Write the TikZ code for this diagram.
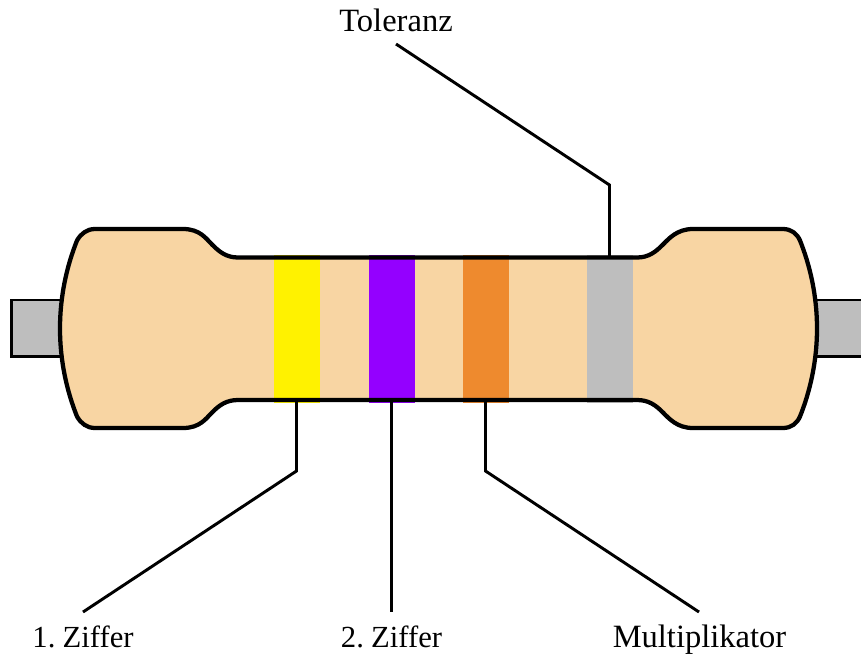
\documentclass[tikz,border=0pt]{standalone}
\usepackage{fontspec}
\setmainfont[WordSpace=0.6]{Liberation Serif}
\definecolor{bodyc}{HTML}{F8D5A3}
\definecolor{leadc}{HTML}{BEBEBE}
\definecolor{yel}{HTML}{FFF200}
\definecolor{vio}{HTML}{9400FF}
\definecolor{ora}{HTML}{EE8A2E}
\tikzset{
  outline/.style={line width=3.2pt,line join=round},
  leader/.style={line width=2.2pt,line join=miter},
  leadwire/.style={fill=leadc,draw=black,line width=2.1pt},
  band/.style={draw=none,inner sep=0pt,minimum width=34.5pt,minimum height=111pt},
  lab/.style={inner sep=0pt,anchor=base,font=\fontsize{24.4pt}{26pt}\selectfont},
  labz/.style={inner sep=0pt,anchor=base,font=\fontsize{23pt}{26pt}\selectfont}
}
\begin{document}
\begin{tikzpicture}[x=0.75pt,y=-0.75pt]
\useasboundingbox (0,0) rectangle (861,654);
\draw[leadwire] (11.5,300) rectangle (80,356.5);
\draw[leadwire] (790,300) rectangle (875,356.5);
\def\bodypath{(95,229) -- (183,229)
  .. controls (200,229) and (206,238.5) .. (212,244.5)
  .. controls (219,251.5) and (226,257.5) .. (238,257.5)
  -- (637,257.5)
  .. controls (649,257.5) and (656,251.5) .. (663,244.5)
  .. controls (669,238.5) and (677,229) .. (693,229)
  -- (783,229)
  .. controls (791,229) and (797,233.5) .. (800,240.5)
  .. controls (810,265.5) and (817,295.5) .. (817,328.5)
  .. controls (817,361.5) and (810,391.5) .. (800,416.5)
  .. controls (797,423.5) and (791,428) .. (783,428)
  -- (693,428)
  .. controls (677,428) and (669,418.5) .. (663,412.5)
  .. controls (656,405.5) and (649,400) .. (637,400)
  -- (238,400)
  .. controls (226,400) and (219,405.5) .. (212,412.5)
  .. controls (206,418.5) and (200,428) .. (183,428)
  -- (95,428)
  .. controls (87,428) and (81,423.5) .. (77,416.5)
  .. controls (67,391.5) and (60,361.5) .. (60,328.5)
  .. controls (60,295.5) and (67,265.5) .. (77,240.5)
  .. controls (81,233.5) and (87,229) .. (95,229) -- cycle}
\fill[bodyc] \bodypath;
\node[band,fill=yel] (b1) at (296.5,328.5) {};
\node[band,fill=vio] (b2) at (391.5,328.5) {};
\node[band,fill=ora] (b3) at (485.5,328.5) {};
\node[band,fill=leadc] (b4) at (609.5,328.5) {};
\draw[outline] \bodypath;
\node[lab] (t) at (396,31.5) {Toleranz};
\node[labz] (z1) at (83,647) {1. Ziffer};
\node[labz] (z2) at (391.5,647) {2. Ziffer};
\node[lab] (m) at (699.5,647) {Multiplikator};
\coordinate (tl) at (396,44);
\coordinate (e1) at (83,612);
\coordinate (e2) at (391.5,612);
\coordinate (e3) at (699,612);
\draw[leader] (tl) -- (609.5,185) -- (b4.north |- 0,257);
\draw[leader] (b1.south |- 0,400) -- (296.5,471) -- (e1);
\draw[leader] (b2.south |- 0,400) -- (e2);
\draw[leader] (b3.south |- 0,400) -- (485.5,471) -- (e3);
\end{tikzpicture}
\end{document}
